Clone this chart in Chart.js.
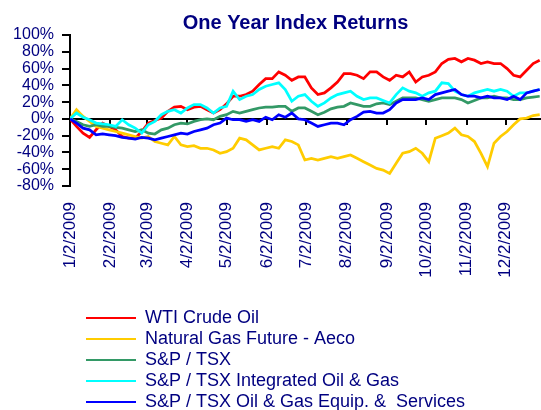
<!DOCTYPE html>
<html><head><meta charset="utf-8">
<script src="https://cdn.jsdelivr.net/npm/chart.js@4.4.0/dist/chart.umd.min.js"></script>
<style>html,body{margin:0;padding:0;background:#fff;}canvas{display:block;}</style>
</head><body>
<canvas id="c" width="541" height="410"></canvas>
<script>
const titleText = 'One Year Index Returns';
const seriesNames = ['WTI Crude Oil', 'Natural Gas Future - Aeco', 'S&P / TSX', 'S&P / TSX Integrated Oil & Gas', 'S&P / TSX Oil & Gas Equip. &  Services'];
const seriesColors = ['#FF0000', '#FFCC00', '#339966', '#00FFFF', '#0000FF'];
// days since 1/2/2009
const days = [0,5,10,15,20,25,30,35,40,45,50,55,60,65,70,75,80,85,90,95,100,105,110,115,120,125,130,135,140,145,150,155,160,165,170,175,
  180,185,190,195,200,205,210,215,220,225,230,235,240,245,250,255,260,265,270,275,280,285,290,295,300,305,310,315,320,325,330,335,340,345,350,355,360];
const wti = [0,-9,-17,-22,-13,-5,-9,-13,-21,-23,-23,-15,-5,-2,1,9,14,15,11,14,15,11,7,11,18,27,27,29,33,41,48,48,56,52,46,50,
  50,37,29,31,37,44,54,54,52,48,56,56,50,46,52,50,56,44,50,52,56,66,71,72,68,72,70,66,68,66,66,60,52,50,58,66,70];
const natGas = [0,11,3,-3,-9,-11,-13,-15,-17,-19,-21,-23,-21,-27,-29,-31,-21,-31,-33,-32,-35,-35,-37,-41,-39,-35,-23,-25,-31,-37,-35,-33,-35,-25,-27,-31,
  -49,-47,-49,-47,-45,-47,-45,-43,-47,-51,-55,-59,-61,-65,-53,-41,-39,-35,-41,-51,-23,-20,-17,-11,-19,-21,-27,-41,-57,-29,-21,-15,-7,0,1,4,5];
const tsx = [0,-3,-7,-9,-7,-9,-9,-10,-11,-13,-15,-13,-17,-18,-13,-11,-7,-5,-6,-3,-1,0,-1,3,5,9,7,9,11,13,14,14,15,15,9,13,
  13,9,5,8,12,14,15,19,17,15,15,18,19,17,21,25,25,25,23,21,23,25,25,25,23,19,22,25,25,27,25,25,23,23,25,26,27];
const integrated = [0,7,2,-1,-5,-6,-7,-9,-1,-7,-11,-17,-7,-3,5,9,11,7,13,17,17,13,7,13,15,33,23,27,29,35,39,41,43,35,21,27,
  29,21,15,19,25,29,31,33,27,23,25,25,22,19,29,37,33,31,27,31,33,43,42,33,29,27,31,33,35,33,35,33,27,31,31,33,35];
const equip = [0,-5,-11,-13,-19,-18,-19,-20,-22,-23,-24,-22,-23,-25,-23,-21,-19,-17,-18,-15,-13,-11,-7,-5,1,-1,-1,-3,-1,-3,2,-1,5,2,7,0,
  -1,-5,-9,-7,-5,-5,-7,-1,3,8,9,7,7,11,19,23,23,23,25,23,29,31,33,35,29,27,27,25,27,25,25,23,27,23,31,33,35];
const tickDays = [0,31,59,90,120,151,181,212,243,273,304,334];
const tickLabels = ['1/2/2009','2/2/2009','3/2/2009','4/2/2009','5/2/2009','6/2/2009','7/2/2009','8/2/2009','9/2/2009','10/2/2009','11/2/2009','12/2/2009'];
const yTicks = [-80,-60,-40,-20,0,20,40,60,80,100];

const NAVY = '#000080';
const FONT = "'Liberation Sans', Arial, sans-serif";
const LEGEND_PAD = ' '.repeat(40);
const LEGEND_DX = 13, LEGEND_DY = 11, TITLE_DX = 25;
const ZERO_TICK_LEN = 6;

const allSeries = [wti, natGas, tsx, integrated, equip];
const datasets = allSeries.map((vals, i) => ({
  label: seriesNames[i],
  data: vals.map((v, j) => ({x: days[j], y: v})),
  borderColor: seriesColors[i],
  backgroundColor: seriesColors[i],
  borderWidth: 2.75,
  pointRadius: 0,
  tension: 0,
  fill: false,
  order: allSeries.length - i,
  xAxisID: 'x', yAxisID: 'y'
}));

const setMonthTicks = s => { s.ticks = tickDays.map(v => ({value: v})); };

const boxShift = {
  id: 'boxShift',
  afterLayout(chart) {
    const l = chart.legend;
    l.left += LEGEND_DX; l.right += LEGEND_DX;
    l.top += LEGEND_DY; l.bottom += LEGEND_DY;
    const t = chart.titleBlock;
    if (t) { t.left += TITLE_DX; t.right += TITLE_DX; }
  }
};

// category axis crossing at 0%: zero line + tick marks, positioned through the chart's own scales
const zeroAxis = {
  id: 'zeroAxis',
  beforeDatasetsDraw(chart) {
    const {ctx, chartArea, scales: {x, y}} = chart;
    const y0 = Math.round(y.getPixelForValue(0));
    ctx.save();
    ctx.strokeStyle = '#000';
    ctx.lineWidth = 2;
    ctx.beginPath();
    ctx.moveTo(chartArea.left, y0);
    ctx.lineTo(chartArea.right, y0);
    for (const d of tickDays) {
      const px = Math.round(x.getPixelForValue(d));
      ctx.moveTo(px, y0);
      ctx.lineTo(px, y0 + ZERO_TICK_LEN);
    }
    ctx.stroke();
    ctx.restore();
  }
};

new Chart(document.getElementById('c'), {
  type: 'line',
  data: { datasets },
  options: {
    responsive: false,
    animation: false,
    events: [],
    layout: { padding: 0 },
    plugins: {
      title: { display: true, text: titleText, color: NAVY, font: {family: FONT, size: 20, weight: 'bold'}, padding: {top: 11, bottom: 0} },
      legend: {
        position: 'bottom', align: 'start', fullSize: false,
        labels: {
          boxWidth: 50, boxHeight: 2, padding: 3, color: NAVY,
          font: {family: FONT, size: 18},
          generateLabels: chart => chart.data.datasets.map((ds, i) => ({
            text: ds.label + LEGEND_PAD, fillStyle: ds.borderColor, strokeStyle: ds.borderColor,
            lineWidth: 0, hidden: false, datasetIndex: i, fontColor: NAVY
          }))
        }
      },
      tooltip: { enabled: false }
    },
    scales: {
      x: {
        type: 'linear', position: 'bottom', min: 0, max: 361,
        afterBuildTicks: setMonthTicks,
        afterFit: s => { s.height = 109; },
        grid: { display: false }, border: { display: false },
        ticks: { autoSkip: false, minRotation: 90, maxRotation: 90, padding: 8, color: NAVY,
          font: {family: FONT, size: 17},
          callback: v => tickLabels[tickDays.indexOf(v)] }
      },
      y: {
        min: -80, max: 100,
        afterBuildTicks: s => { s.ticks = yTicks.map(v => ({value: v})); },
        afterFit: s => { s.width = 70; },
        ticks: { autoSkip: false, padding: 8, color: NAVY, font: {family: FONT, size: 16}, callback: v => v + '%' },
        grid: { drawOnChartArea: false, color: '#000', tickColor: '#000', lineWidth: 2, tickWidth: 2, tickLength: 8 },
        border: { color: '#000', width: 2 }
      }
    }
  },
  plugins: [boxShift, zeroAxis]
});
</script>
</body></html>
